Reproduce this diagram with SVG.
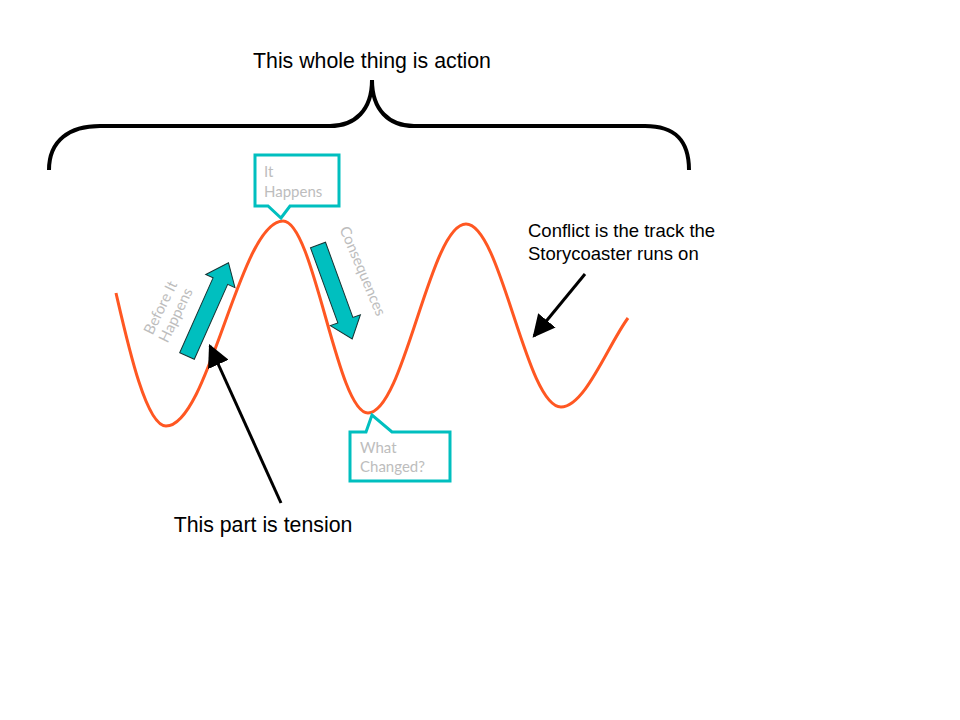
<svg xmlns="http://www.w3.org/2000/svg" width="960" height="720" viewBox="0 0 960 720">
<defs>
<style>
.lbl{font-family:"Liberation Sans",Arial,sans-serif;fill:#000}
.soft{font-family:Lato,"Open Sans",sans-serif;fill:#bdbdbd;font-size:15px}
.callout{fill:#fff;stroke:#00bfbf;stroke-width:3;stroke-linejoin:miter}
.blk{fill:#00bfbf;stroke:#153333;stroke-width:1}
.ptr{stroke:#000;stroke-width:3;fill:none}
</style>
<marker id="ah" viewBox="0 0 10 10" refX="9" refY="5" markerWidth="7.5" markerHeight="7.5" orient="auto" markerUnits="strokeWidth">
<path d="M0,0 L10,5 L0,10 z" fill="#000"/>
</marker>
</defs>
<rect width="960" height="720" fill="#fff"/>

<g id="brace">
<path d="M49,170 C49,140 70,126 100,126 L330,126 C355,126 372,110 372,80 C372,110 389,126 414,126 L645,126 C675,126 689,140 689,170" fill="none" stroke="#000" stroke-width="4"/>
</g>
<g id="action-label"><text class="lbl" x="372" y="68" font-size="21.3" text-anchor="middle">This whole thing is action</text></g>

<g id="track">
<path d="M116,293 C128,345 146,426 166,426 C209,426 240,221 283,221 C314,221 337,413 368,413 C404,413 430,224 466,224 C501,224 526,407 561,407 C585,407 608,345 628,318" fill="none" stroke="#ff5722" stroke-width="3"/>
</g>

<g id="it-happens">
<path class="callout" d="M255,155 H339 V206 H290 L281,218 L268,206 H255 Z"/>
<text class="soft" x="264" y="177">It</text>
<text class="soft" x="264" y="197">Happens</text>
</g>

<g id="what-changed">
<path class="callout" d="M350,432 H366 L372,415 L392,432 H450 V481 H350 Z"/>
<text class="soft" x="360" y="453">What</text>
<text class="soft" x="360" y="472">Changed?</text>
</g>

<g id="before-arrow">
<polygon class="blk" transform="translate(187,356) rotate(-66)" points="0,-8 82,-8 82,-16 102,0 82,16 82,8 0,8"/>
</g>
<g id="before-label" transform="translate(165,310) rotate(-64)">
<text class="soft" x="0" y="0" text-anchor="middle">Before It</text>
<text class="soft" x="0" y="17" text-anchor="middle">Happens</text>
</g>

<g id="consequences-arrow">
<polygon class="blk" transform="translate(318,245) rotate(70)" points="0,-8 80,-8 80,-16 100,0 80,16 80,8 0,8"/>
</g>
<g id="consequences-label" transform="translate(358,273) rotate(67)">
<text class="soft" x="0" y="0" text-anchor="middle">Consequences</text>
</g>

<g id="conflict-label">
<text class="lbl" x="528" y="237" font-size="18.5">Conflict is the track the</text>
<text class="lbl" x="528" y="260" font-size="18.5">Storycoaster runs on</text>
</g>
<g id="tension-label"><text class="lbl" x="263" y="532" font-size="21.3" text-anchor="middle">This part is tension</text></g>

<g id="connectors">
<line class="ptr" x1="281" y1="503" x2="210" y2="346" marker-end="url(#ah)"/>
<line class="ptr" x1="585" y1="274" x2="534" y2="336" marker-end="url(#ah)"/>
</g>
</svg>
